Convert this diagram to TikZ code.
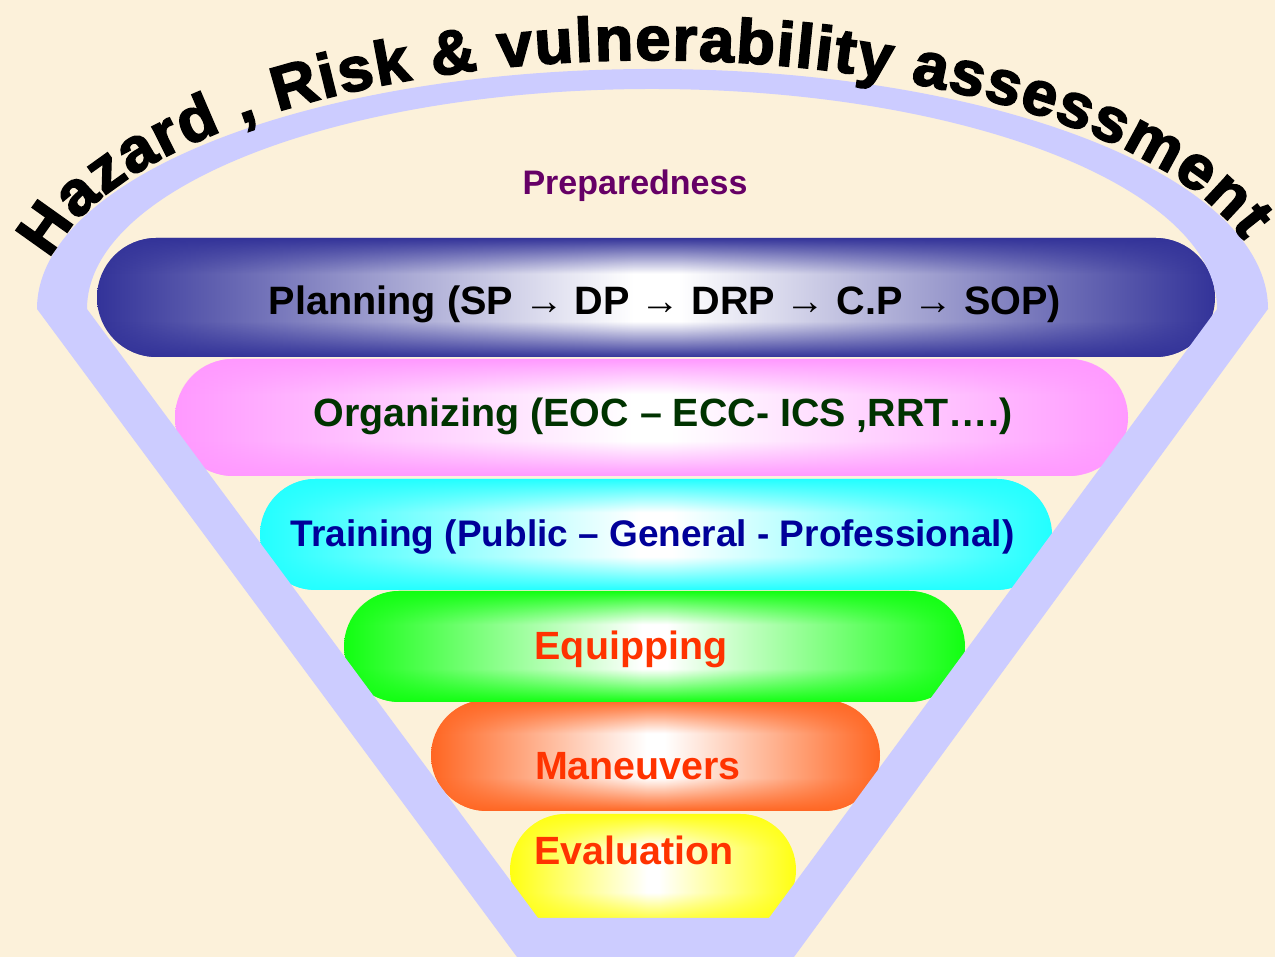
\documentclass[tikz,border=0pt]{standalone}
\usepackage{fontspec}
\usetikzlibrary{decorations.text,fadings}

\newfontfamily\labelfont{Liberation Sans}
\newfontfamily\hazardfamily{Liberation Sans}[FakeBold=2.8,FakeStretch=1.02]
\newcommand\hazardstyle{\hazardfamily\bfseries\fontsize{62}{62}\selectfont}

\definecolor{parchment}{HTML}{FCF1DA}
\definecolor{funnelband}{HTML}{CCCCFF}
\definecolor{barblue}{HTML}{333399}
\definecolor{barpink}{HTML}{FF99FF}
\definecolor{barcyan}{HTML}{22FFFF}
\definecolor{bargreen}{HTML}{11FF11}
\definecolor{barorange}{HTML}{FF6622}
\definecolor{baryellow}{HTML}{FFFF11}
\definecolor{orgtext}{HTML}{003300}
\definecolor{traintext}{HTML}{000099}
\definecolor{redtext}{HTML}{FF3300}
\definecolor{preptext}{HTML}{660066}
\colorlet{barcol}{white}

% side-to-side glow: bar colour at both ends, white in the middle
\pgfdeclarehorizontalshading[barcol]{barside}{100bp}{%
  color(0bp)=(barcol); color(25bp)=(barcol); color(49bp)=(white);
  color(51bp)=(white); color(75bp)=(barcol); color(100bp)=(barcol)}
% opaque along the top and bottom rims, clear in the middle
\pgfdeclareverticalshading{rimshade}{100bp}{%
  color(0bp)=(pgftransparent!0); color(25bp)=(pgftransparent!0);
  color(40bp)=(pgftransparent!100); color(60bp)=(pgftransparent!100);
  color(75bp)=(pgftransparent!0); color(100bp)=(pgftransparent!0)}
\pgfdeclarefading{rimfade}{\pgfuseshading{rimshade}}

\tikzset{
  bar/.style={/utils/exec={\colorlet{barcol}{#1}}, shape=rectangle,
    shade, shading=barside, inner sep=0pt, outer sep=0pt,
    postaction={fill=barcol, path fading=rimfade}},
  lbl/.style={anchor=base, inner sep=0pt,
    font=\labelfont\bfseries\fontsize{39.4}{40}\selectfont},
}

\begin{document}
\begin{tikzpicture}[x=1pt,y=1pt]
  \useasboundingbox (0,0) rectangle (1275,957);
  \fill[parchment] (0,0) rectangle (1275,957);

  % stacked stages
  \node[bar=barblue,   minimum width=1118pt, minimum height=119pt, rounded corners=59.5pt] (planbar)  at (656,659.5) {};
  \node[bar=barpink,   minimum width=953pt,  minimum height=117pt, rounded corners=58.5pt] (orgbar)   at (651.5,539.5) {};
  \node[bar=barcyan,   minimum width=792pt,  minimum height=111pt, rounded corners=55.5pt] (trainbar) at (656,422.5) {};
  \node[bar=barorange, minimum width=449pt,  minimum height=111pt, rounded corners=55.5pt] (manbar)   at (655.5,201.5) {};
  \node[bar=bargreen,  minimum width=621pt,  minimum height=111pt, rounded corners=55.5pt] (equipbar) at (654.5,310.5) {};
  \node[bar=baryellow, minimum width=286pt,  minimum height=112pt, rounded corners=56pt]   (evalbar)  at (653,87) {};

  % funnel band: arc on top, V sides and flat foot
  \fill[funnelband, even odd rule]
    (37,648) arc[start angle=180, end angle=0, x radius=615.5pt, y radius=240pt]
      -- (794,0) -- (517,0) -- cycle
    (87,648) arc[start angle=180, end angle=0, x radius=565pt, y radius=220pt]
      -- (769,39) -- (538,39) -- cycle;

  % stage labels
  \node[lbl, text=black, font=\labelfont\bfseries\fontsize{39.6}{40}\selectfont] (plantext) at (665,642)
    {Planning (SP → DP → DRP → C.P → SOP)};
  \node[lbl, text=orgtext] (orgtext) at (663,530)
    {Organizing (EOC – ECC- ICS ,RRT….)};
  \node[lbl, text=traintext, font=\labelfont\bfseries\fontsize{37}{38}\selectfont] (traintext) at (652.5,410)
    {Training (Public – General - Professional)};
  \node[lbl, text=redtext] (equiptext) at (631,297) {Equipping};
  \node[lbl, text=redtext] (mantext) at (638,177) {Maneuvers};
  \node[lbl, text=redtext] (evaltext) at (634,92) {Evaluation};

  \node[anchor=base, inner sep=0pt, text=preptext,
        font=\labelfont\bfseries\fontsize{34}{35}\selectfont] (prep) at (635,762) {Preparedness};

  % curved heading above the funnel
  \path[decorate, decoration={text along path,
      text={|\hazardstyle|Hazard , Risk {\&} vulnerability assessment},
      text align={fit to path}}]
    (49.8,697.6) arc[start angle=168.5, end angle=16, x radius=615pt, y radius=249pt];
\end{tikzpicture}
\end{document}
